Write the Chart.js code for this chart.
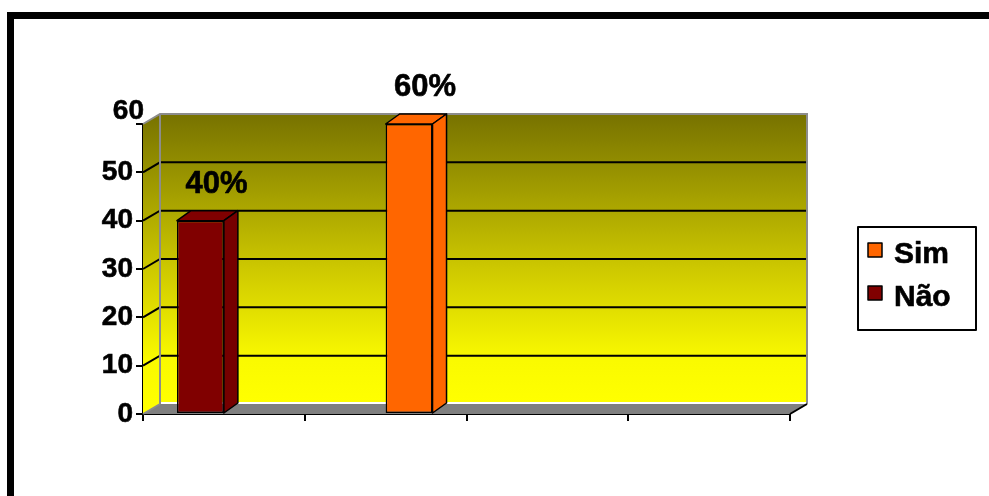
<!DOCTYPE html>
<html>
<head>
<meta charset="utf-8">
<script src="https://cdn.jsdelivr.net/npm/chart.js@4.4.1/dist/chart.umd.min.js"></script>
<style>
  html, body { margin: 0; padding: 0; background: #ffffff; }
  #wrap { position: relative; width: 989px; height: 496px; }
  canvas { display: block; }
</style>
</head>
<body>
<div id="wrap"><canvas id="c" width="989" height="496"></canvas></div>
<script>
// ---- data ----
const categories = ['', '', '', ''];
const seriesNames = ['Não', 'Sim'];
const naoValues = [40, null, null, null];
const simValues = [null, 60, null, null];
const yTicks = [0, 10, 20, 30, 40, 50, 60];
const legendOrder = ['Sim', 'Não'];

const FONT = '"Liberation Sans", Arial, sans-serif';
const DX = 17, DY = 10;      // wall depth
const BDX = 14, BDY = 10;    // bar depth

function boldText(ctx, txt, x, y, sw) {
  ctx.lineWidth = sw;
  ctx.strokeStyle = '#000000';
  ctx.lineJoin = 'round';
  ctx.strokeText(txt, x, y);
  ctx.fillText(txt, x, y);
}

const threeD = {
  id: 'threeD',
  beforeDatasetsDraw(chart) {
    const { ctx, chartArea: { left, right, top, bottom } } = chart;
    const y = chart.scales.y;
    ctx.save();
    const g = ctx.createLinearGradient(0, top - DY, 0, bottom - DY);
    g.addColorStop(0, '#777200');
    g.addColorStop(0.55, '#d0cb00');
    g.addColorStop(0.85, '#fafa00');
    g.addColorStop(1, '#ffff00');
    // back wall
    ctx.fillStyle = g;
    ctx.fillRect(left + DX, top - DY, right - left, bottom - top);
    // left wall
    ctx.beginPath();
    ctx.moveTo(left, top); ctx.lineTo(left + DX, top - DY);
    ctx.lineTo(left + DX, bottom - DY); ctx.lineTo(left, bottom);
    ctx.closePath(); ctx.fill();
    // floor
    ctx.fillStyle = '#808080';
    ctx.beginPath();
    ctx.moveTo(left, bottom); ctx.lineTo(left + DX, bottom - DY);
    ctx.lineTo(right + DX, bottom - DY); ctx.lineTo(right, bottom);
    ctx.closePath(); ctx.fill();
    // white line at back bottom
    ctx.strokeStyle = '#ffffff'; ctx.lineWidth = 2;
    ctx.beginPath(); ctx.moveTo(left + DX, bottom - DY - 1); ctx.lineTo(right + DX, bottom - DY - 1); ctx.stroke();
    // gridlines
    ctx.strokeStyle = '#000000'; ctx.lineWidth = 2;
    yTicks.forEach(v => {
      if (v <= y.min || v >= y.max) return;
      const py = y.getPixelForValue(v);
      ctx.beginPath();
      ctx.moveTo(left, py); ctx.lineTo(left + DX, py - DY); ctx.lineTo(right + DX, py - DY);
      ctx.stroke();
    });
    // gray edges
    ctx.strokeStyle = '#8c8c8c'; ctx.lineWidth = 2;
    ctx.beginPath();
    ctx.moveTo(left, top); ctx.lineTo(left + DX, top - DY); ctx.lineTo(right + DX, top - DY);
    ctx.lineTo(right + DX, bottom - DY);
    ctx.moveTo(left + DX, top - DY); ctx.lineTo(left + DX, bottom - DY);
    ctx.moveTo(left, bottom); ctx.lineTo(left + DX, bottom - DY);
    ctx.stroke();
    // floor right edge
    ctx.strokeStyle = '#000000'; ctx.lineWidth = 2;
    ctx.beginPath(); ctx.moveTo(right, bottom); ctx.lineTo(right + DX, bottom - DY); ctx.stroke();
    ctx.restore();
  },
  afterDatasetsDraw(chart) {
    const { ctx } = chart;
    ctx.save();
    chart.data.datasets.forEach((ds, di) => {
      const meta = chart.getDatasetMeta(di);
      meta.data.forEach((el, i) => {
        const v = ds.data[i];
        if (v === null || v === undefined) return;
        const { x, y, base, width } = el.getProps(['x', 'y', 'base', 'width'], true);
        const x0 = x - width / 2, x1 = x + width / 2;
        ctx.fillStyle = ds.backgroundColor;
        ctx.strokeStyle = '#000000';
        ctx.lineWidth = 1.5;
        ctx.lineJoin = 'round';
        // top face
        ctx.beginPath();
        ctx.moveTo(x0, y); ctx.lineTo(x0 + BDX, y - BDY); ctx.lineTo(x1 + BDX, y - BDY); ctx.lineTo(x1, y);
        ctx.closePath(); ctx.fill(); ctx.stroke();
        // side face
        ctx.fillStyle = ds.sideColor;
        ctx.beginPath();
        ctx.moveTo(x1, y); ctx.lineTo(x1 + BDX, y - BDY); ctx.lineTo(x1 + BDX, base - BDY); ctx.lineTo(x1, base);
        ctx.closePath(); ctx.fill(); ctx.stroke();
        // value label
        ctx.fillStyle = '#000000';
        ctx.font = 'bold 31px ' + FONT;
        ctx.textAlign = 'center';
        ctx.textBaseline = 'alphabetic';
        boldText(ctx, v + '%', x + 16, y - 28, 0.6);
      });
    });
    ctx.restore();
  },
  afterDraw(chart) {
    const { ctx } = chart;
    const y = chart.scales.y;
    ctx.save();
    // top y tick label sits above its tick in the reference
    ctx.fillStyle = '#000000';
    ctx.font = 'bold 28px ' + FONT;
    ctx.textAlign = 'right'; ctx.textBaseline = 'middle';
    boldText(ctx, String(y.max), 144, y.getPixelForValue(y.max) - 13, 0.6);
    // outer frame (cropped at right/bottom)
    ctx.fillStyle = '#000000';
    ctx.fillRect(7, 12, 989 - 7, 7);
    ctx.fillRect(7, 12, 7, 496 - 12);
    // legend
    ctx.strokeStyle = '#000000'; ctx.lineWidth = 2;
    ctx.strokeRect(858, 227, 118, 103);
    ctx.font = 'bold 30px ' + FONT;
    ctx.textAlign = 'left'; ctx.textBaseline = 'alphabetic';
    legendOrder.forEach((name, k) => {
      const ds = chart.data.datasets.find(d => d.label === name);
      const sy = 243 + k * 43;
      ctx.fillStyle = ds.backgroundColor;
      ctx.fillRect(868, sy, 14, 14);
      ctx.strokeStyle = '#000000';
      ctx.lineWidth = 1.5;
      ctx.strokeRect(868, sy, 14, 14);
      ctx.fillStyle = '#000000';
      boldText(ctx, name, 894, sy + 20, 0.6);
    });
    ctx.restore();
  }
};

new Chart(document.getElementById('c'), {
  type: 'bar',
  data: {
    labels: categories,
    datasets: [
      { label: seriesNames[0], data: naoValues, backgroundColor: '#800000', sideColor: '#760000',
        borderColor: '#000000', borderWidth: 1.5, borderSkipped: false,
        barPercentage: 1.0, categoryPercentage: 0.58 },
      { label: seriesNames[1], data: simValues, backgroundColor: '#ff6600', sideColor: '#ff6600',
        borderColor: '#000000', borderWidth: 1.5, borderSkipped: false,
        barPercentage: 1.0, categoryPercentage: 0.58 }
    ]
  },
  options: {
    responsive: false,
    animation: false,
    layout: { padding: { left: 0, right: 199, top: 124, bottom: 0 } },
    plugins: { legend: { display: false }, tooltip: { enabled: false } },
    scales: {
      x: {
        grid: { offset: true, drawOnChartArea: false, drawTicks: true, tickLength: 7, color: '#000000', lineWidth: 2 },
        border: { display: true, color: '#000000', width: 2 },
        ticks: { display: false },
        afterFit(s) { s.height = 82; }
      },
      y: {
        min: 0, max: 60,
        grid: { drawOnChartArea: false, drawTicks: true, tickLength: 7, color: '#000000', lineWidth: 2 },
        border: { display: true, color: '#000000', width: 2 },
        ticks: {
          stepSize: 10, padding: 3,
          color: (c) => (c.tick && c.tick.value === 60) ? 'rgba(0,0,0,0)' : '#000000',
          textStrokeColor: (c) => (c.tick && c.tick.value === 60) ? 'rgba(0,0,0,0)' : '#000000',
          textStrokeWidth: 0.6,
          font: { family: FONT, size: 28, weight: 'bold' }
        },
        afterFit(s) { s.width = 143; }
      }
    }
  },
  plugins: [threeD]
});
</script>
</body>
</html>
